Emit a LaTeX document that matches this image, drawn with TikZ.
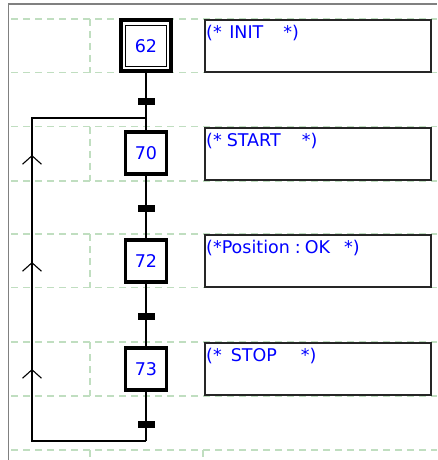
\documentclass[tikz,border=0pt]{standalone}
\usepackage{fontspec}
\setmainfont{DejaVu Sans}
\usetikzlibrary{arrows.meta,positioning,decorations.markings}
\definecolor{gridgreen}{RGB}{192,222,192}
\definecolor{framegray}{RGB}{128,128,128}
\definecolor{textblue}{RGB}{0,0,255}

\begin{document}
\begin{tikzpicture}[
  x=1pt,y=-1pt,
  font=\fontsize{17.5}{20}\selectfont,
  grid/.style={gridgreen,line width=1.3pt,dash pattern=on 7pt off 5pt},
  stepbox/.style={draw,fill=white,line width=3.8pt,minimum width=41pt,minimum height=42pt,inner sep=0pt,text=textblue},
  initframe/.style={draw,fill=white,line width=3.7pt,minimum width=50.5pt,minimum height=51pt,inner sep=0pt},
  initbox/.style={draw,line width=1.3pt,minimum width=41pt,minimum height=41pt,inner sep=0pt,text=textblue},
  action/.style={draw=black!85,fill=white,line width=2pt,minimum width=226pt,minimum height=51.5pt,inner sep=0pt},
  acttext/.style={anchor=base west,inner sep=0pt,text=textblue,xshift=2pt,yshift=-19pt},
  bar/.style={fill=black,minimum width=17pt,minimum height=7pt,inner sep=0pt},
  link/.style={line width=1.6pt,line join=miter},
  ret/.style={link,postaction={decorate},decoration={markings,
    mark=at position 186pt with {\arrow{Straight Barb[length=8.5pt,width=19pt,line width=1.1pt]}},
    mark=at position 293pt with {\arrow{Straight Barb[length=8.5pt,width=19pt,line width=1.1pt]}},
    mark=at position 400pt with {\arrow{Straight Barb[length=8.5pt,width=19pt,line width=1.1pt]}}}}
]
\useasboundingbox[fill=white] (0,0) rectangle (437,460);

% grid of the editor
\draw[grid] (11,19) -- (437,19);
\draw[grid] (11,72.5) -- (437,72.5);
\draw[grid] (11,126.5) -- (437,126.5);
\draw[grid] (11,181) -- (437,181);
\draw[grid] (11,234) -- (437,234);
\draw[grid] (11,287.5) -- (437,287.5);
\draw[grid] (11,342) -- (437,342);
\draw[grid] (11,396) -- (437,396);
\draw[grid] (11,450) -- (437,450);
\draw[grid] (90,19) -- (90,72.5);
\draw[grid] (90,126.5) -- (90,181);
\draw[grid] (90,234) -- (90,287.5);
\draw[grid] (90,342) -- (90,396);
\draw[grid] (90,450) -- (90,460);
\draw[grid] (203,450) -- (203,460);

% window frame
\draw[framegray,line width=1.5pt] (8.5,460) -- (8.5,4) -- (437,4);

% steps
\node[initframe] (s62) at (146,45.75) {};
\node[initbox] (s62num) at (s62) {62};
\node[stepbox] (s70) at (146,153) {70};
\node[stepbox] (s72) at (146,261) {72};
\node[stepbox] (s73) at (146,369) {73};

% actions
\node[action,label={[acttext]north west:{(*\hspace{7.5pt}INIT\hspace{20pt}*)}}] (a62) at (318,45.75) {};
\node[action,label={[acttext]north west:{(*\hspace{5pt}START\hspace{21pt}*)}}] (a70) at (318,153.75) {};
\node[action,label={[acttext]north west:{(*Position\hspace{5pt}:\hspace{4pt}OK\hspace{14pt}*)}}] (a72) at (318,261) {};
\node[action,label={[acttext]north west:{(*\hspace{9pt}STOP\hspace{24pt}*)}}] (a73) at (318,369) {};

% links and transitions
\coordinate (retbot) at (146,441);
\coordinate (retleftbot) at (32,441);
\coordinate (retlefttop) at (32,118);
\coordinate (rettop) at (146,118);
\draw[link] (s62) -- (s70);
\draw[link] (s70) -- (s72);
\draw[link] (s72) -- (s73);
\draw[link] (s73) -- (retbot);
\draw[ret] (retbot) -- (retleftbot) -- (retlefttop) -- (rettop);
\node[bar] (t62) at (146,101) {};
\node[bar] (t70) at (146,208.5) {};
\node[bar] (t72) at (146,316) {};
\node[bar] (t73) at (146,424.5) {};
\end{tikzpicture}
\end{document}
